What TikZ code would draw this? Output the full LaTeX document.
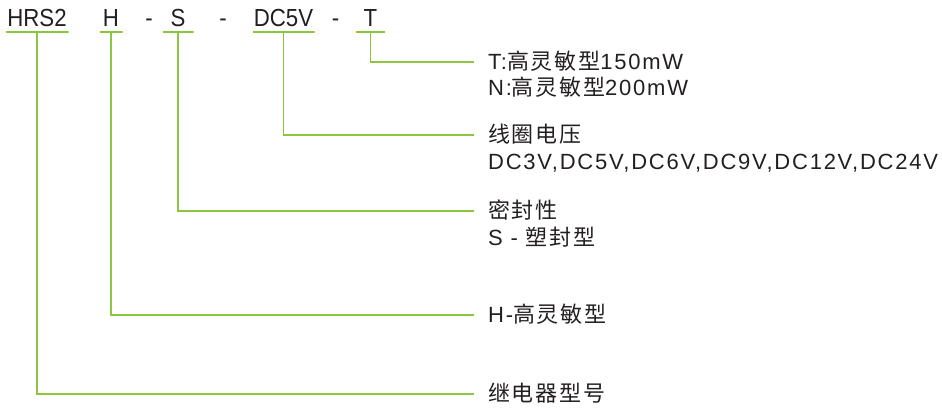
\documentclass[tikz,border=0pt]{standalone}
\usepackage{fontspec}
\newfontfamily\code[FakeStretch=0.9]{Liberation Sans}
\newfontfamily\lab[LetterSpace=8]{Liberation Sans}
\newfontfamily\cjk[LetterSpace=8]{Noto Sans CJK SC}
\newcommand{\zh}[1]{{\cjk #1}}
\usetikzlibrary{positioning}
\definecolor{leaf}{RGB}{140,198,63}
\definecolor{ink}{RGB}{35,31,32}

\begin{document}
\begin{tikzpicture}[x=1pt, y=-1pt,
    part/.style = {inner sep=0pt, text=ink, font=\code\fontsize{24.7}{28}\selectfont, text height=18pt, text depth=6pt, anchor=base},
    bar/.style = {part, path picture={\draw[leaf, line width=1.5pt] (path picture bounding box.south west) -- (path picture bounding box.south east);}},
    note/.style = {inner sep=0pt, text=ink, font=\lab\fontsize{22}{26}\selectfont, text height=16pt, text depth=2pt, anchor=west},
    lead/.style = {draw=leaf, line width=1.5pt, shorten >=14pt}]
          \useasboundingbox (0,0) rectangle (942,408);
          % code on top
          \node[bar, minimum width=63pt](hrs) at (37,26){HRS2};
          \node[bar, minimum width=23pt](h) at (111,26){H};
          \node[part](d1) at (149,26){-};
          \node[bar, minimum width=31pt](s) at (178,26){S};
          \node[part](d2) at (223,26){-};
          \node[bar, minimum width=62pt](dc) at (283.5,26){DC5V};
          \node[part](d3) at (335.5,26){-};
          \node[bar, minimum width=29pt](t) at (370.5,26){T};
          % notes on the right
          \node[note](tn1) at (488,62){T:\zh{高灵敏型}150mW};
          \node[note](tn2) [below right=8pt and 0pt of tn1.south west]{N:\zh{高灵敏型}200mW};
          \node[note](dcn1) at (488,135){\zh{线圈电压}};
          \node[note](dcn2) [below right=9pt and 0pt of dcn1.south west]{DC3V,DC5V,DC6V,DC9V,DC12V,DC24V};
          \node[note](sn1) at (488,211){\zh{密封性}};
          \node[note](sn2) [below right=9pt and 0pt of sn1.south west]{S - \zh{塑封型}};
          \node[note](hn) at (488,315){H-\zh{高灵敏型}};
          \node[note](hrsn) at (488,394){\zh{继电器型号}};
          \draw[lead] (t.south) |- (tn1.west);
          \draw[lead] (dc.south) |- (dcn1.west);
          \draw[lead] (s.south) |- (sn1.west);
          \draw[lead] (h.south) |- (hn.west);
          \draw[lead] (hrs.south) |- (hrsn.west);
        \end{tikzpicture}
\end{document}
